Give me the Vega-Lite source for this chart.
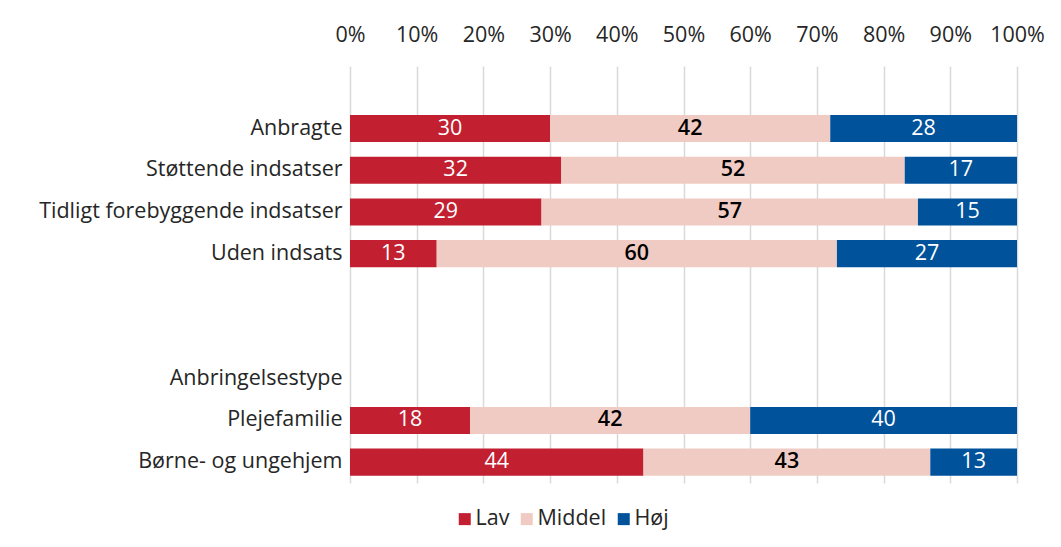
{
  "$schema": "https://vega.github.io/schema/vega-lite/v6.json",
  "autosize": "none",
  "width": 667,
  "height": 417,
  "padding": {"left": 350, "top": 66, "right": 44, "bottom": 64},
  "background": "white",
  "config": {
    "view": {"stroke": null},
    "font": "Open Sans",
    "axis": {"labelFont": "Open Sans", "labelColor": "#262626", "labelFontSize": 21.5, "labelLimit": 400}
  },
  "data": {
    "values": [
      {"cat": "Anbragte", "level": "Lav", "order": 1, "value": 30},
      {"cat": "Anbragte", "level": "Middel", "order": 2, "value": 42},
      {"cat": "Anbragte", "level": "Høj", "order": 3, "value": 28},
      {"cat": "Støttende indsatser", "level": "Lav", "order": 1, "value": 32},
      {"cat": "Støttende indsatser", "level": "Middel", "order": 2, "value": 52},
      {"cat": "Støttende indsatser", "level": "Høj", "order": 3, "value": 17},
      {"cat": "Tidligt forebyggende indsatser", "level": "Lav", "order": 1, "value": 29},
      {"cat": "Tidligt forebyggende indsatser", "level": "Middel", "order": 2, "value": 57},
      {"cat": "Tidligt forebyggende indsatser", "level": "Høj", "order": 3, "value": 15},
      {"cat": "Uden indsats", "level": "Lav", "order": 1, "value": 13},
      {"cat": "Uden indsats", "level": "Middel", "order": 2, "value": 60},
      {"cat": "Uden indsats", "level": "Høj", "order": 3, "value": 27},
      {"cat": "Plejefamilie", "level": "Lav", "order": 1, "value": 18},
      {"cat": "Plejefamilie", "level": "Middel", "order": 2, "value": 42},
      {"cat": "Plejefamilie", "level": "Høj", "order": 3, "value": 40},
      {"cat": "Børne- og ungehjem", "level": "Lav", "order": 1, "value": 44},
      {"cat": "Børne- og ungehjem", "level": "Middel", "order": 2, "value": 43},
      {"cat": "Børne- og ungehjem", "level": "Høj", "order": 3, "value": 13}
    ]
  },
  "transform": [
    {"stack": "value", "groupby": ["cat"], "sort": [{"field": "order"}], "as": ["v0", "v1"], "offset": "normalize"},
    {"calculate": "(datum.v0 + datum.v1) / 2", "as": "mid"}
  ],
  "encoding": {
    "y": {
      "field": "cat",
      "type": "nominal",
      "title": null,
      "scale": {
        "domain": [" ", "Anbragte", "Støttende indsatser", "Tidligt forebyggende indsatser", "Uden indsats", "  ", "   ", "Anbringelsestype", "Plejefamilie", "Børne- og ungehjem"],
        "paddingInner": 0.35,
        "paddingOuter": 0.175
      },
      "axis": {"domain": false, "ticks": false, "labelPadding": 8, "grid": false}
    }
  },
  "layer": [
    {
      "mark": {"type": "bar"},
      "encoding": {
        "x": {
          "field": "v0",
          "type": "quantitative",
          "scale": {"domain": [0, 1]},
          "title": null,
          "axis": {
            "orient": "top",
            "format": ".0%",
            "values": [0, 0.1, 0.2, 0.3, 0.4, 0.5, 0.6, 0.7, 0.8, 0.9, 1],
            "labelOverlap": false,
            "labelFlush": false,
            "domain": false,
            "ticks": false,
            "labelPadding": 20,
            "grid": true,
            "gridColor": "#d9d9d9",
            "gridWidth": 1.5
          }
        },
        "x2": {"field": "v1"},
        "color": {
          "field": "level",
          "type": "nominal",
          "scale": {"domain": ["Lav", "Middel", "Høj"], "range": ["#C21F30", "#F0CBC3", "#00529B"]},
          "legend": {
            "title": null,
            "orient": "none",
            "direction": "horizontal",
            "legendX": 104,
            "legendY": 442,
            "symbolType": "square",
            "symbolSize": 144,
            "symbolStrokeWidth": 0,
            "labelFontSize": 21.5,
            "labelFont": "Open Sans",
            "labelColor": "#262626",
            "labelOffset": 0,
            "labelLimit": 200,
            "columnPadding": 6
          }
        }
      }
    },
    {
      "transform": [{"filter": "datum.level !== 'Middel'"}],
      "mark": {"type": "text", "fontSize": 21.5, "color": "white", "font": "Open Sans"},
      "encoding": {
        "x": {"field": "mid", "type": "quantitative"},
        "text": {"field": "value", "type": "quantitative"}
      }
    },
    {
      "transform": [{"filter": "datum.level === 'Middel'"}],
      "mark": {"type": "text", "fontSize": 21.5, "color": "black", "font": "Open Sans", "fontWeight": 600},
      "encoding": {
        "x": {"field": "mid", "type": "quantitative"},
        "text": {"field": "value", "type": "quantitative"}
      }
    }
  ]
}
